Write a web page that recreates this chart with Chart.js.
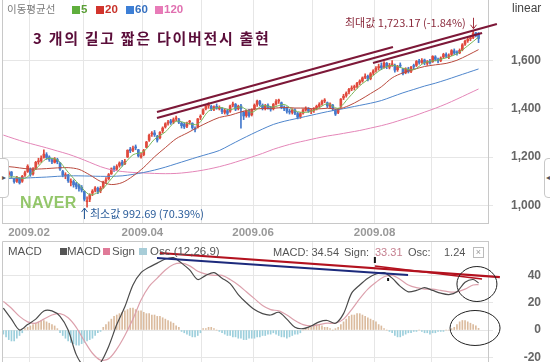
<!DOCTYPE html>
<html><head><meta charset="utf-8">
<script src="https://cdn.jsdelivr.net/npm/chart.js@4/dist/chart.umd.min.js"></script>
<style>
html,body{margin:0;padding:0;background:#fff;}
#wrap{position:relative;width:550px;height:362px;overflow:hidden;font-family:'Liberation Sans',Arial,sans-serif;}
canvas{position:absolute;left:0;}
#cMain{top:0;}
#cMacd{top:241px;}
.t{position:absolute;white-space:nowrap;line-height:1;}
.k{font-family:'Noto Sans CJK KR','Liberation Sans',sans-serif;}
.sq{position:absolute;}
.tab{position:absolute;background:#fff;border:1px solid #c8c8c8;color:#555;font-size:8px;line-height:38px;text-align:center;}
</style></head><body>
<div id="wrap">
<canvas id="cMain" width="550" height="240" style="width:550px;height:240px"></canvas>
<canvas id="cMacd" width="550" height="121" style="width:550px;height:121px"></canvas>

<div class="t k" style="left:7px;top:4px;font-size:10.5px;color:#7a7a7a;">이동평균선</div>
<div class="sq" style="left:72px;top:6px;width:8px;height:8px;background:#5fae3c"></div>
<div class="t" style="left:81px;top:4px;font-size:11.5px;font-weight:bold;color:#5a9e36;">5</div>
<div class="sq" style="left:96px;top:6px;width:8px;height:8px;background:#d2342c"></div>
<div class="t" style="left:105px;top:4px;font-size:11.5px;font-weight:bold;color:#c8322a;">20</div>
<div class="sq" style="left:126px;top:6px;width:8px;height:8px;background:#3d7fd6"></div>
<div class="t" style="left:135px;top:4px;font-size:11.5px;font-weight:bold;color:#3570c0;">60</div>
<div class="sq" style="left:155px;top:6px;width:8px;height:8px;background:#e87bb8"></div>
<div class="t" style="left:164px;top:4px;font-size:11.5px;font-weight:bold;color:#e070b0;">120</div>

<div class="t k" style="left:33px;top:30px;font-size:15px;font-weight:bold;letter-spacing:1.7px;color:#5b0e3a;">3 개의 길고 짧은 다이버전시 출현</div>
<div class="t" style="left:512px;top:2px;font-size:12px;color:#444;">linear</div>
<div class="t k" style="left:345px;top:17px;font-size:11px;color:#8a2a3c;">최대값 1,723.17 (-1.84%)</div>
<div class="t k" style="left:90px;top:208px;font-size:11px;color:#2a5c9a;">최소값 992.69 (70.39%)</div>
<div class="t" style="left:20px;top:195px;font-size:16px;font-weight:bold;letter-spacing:0.4px;color:#93c66a;">NAVER</div>

<div class="t" style="left:8px;top:246px;font-size:11.5px;color:#555;">MACD</div>
<div class="sq" style="left:60px;top:248px;width:7px;height:7px;background:#555"></div>
<div class="t" style="left:67px;top:246px;font-size:11.5px;color:#555;">MACD</div>
<div class="sq" style="left:103px;top:248px;width:7px;height:7px;background:#e07a98"></div>
<div class="t" style="left:112px;top:246px;font-size:11.5px;color:#555;">Sign</div>
<div class="sq" style="left:139px;top:248px;width:8px;height:7px;background:#a8cdd8"></div>
<div class="t" style="left:150px;top:246px;font-size:11.5px;color:#555;">Osc (12,26,9)</div>

<div class="t" style="left:273px;top:246.5px;font-size:11px;color:#555;">MACD: 34.54</div>
<div class="t" style="left:344px;top:246.5px;font-size:11px;color:#555;">Sign:</div>
<div class="t" style="left:375px;top:246.5px;font-size:11px;color:#c58090;">33.31</div>
<div class="t" style="left:408px;top:246.5px;font-size:11px;color:#555;">Osc:</div>
<div class="t" style="left:444px;top:246.5px;font-size:11px;color:#555;">1.24</div>
<div class="t" style="left:473px;top:247px;width:9px;height:9px;border:1px solid #bbb;font-size:9px;color:#999;text-align:center;line-height:9px;">×</div>

<div class="tab" style="left:-1px;top:158px;width:8px;height:38px;border-radius:0 4px 4px 0;">▸</div>
<div class="tab" style="left:544px;top:158px;width:10px;height:38px;border-radius:4px 0 0 4px;text-align:left;padding-left:1px;">◂</div>
</div>
<script>
// ---- categories: trading days 2009-01-15 .. 2009-09-24 (index 0..176), month starts ----
const monthStarts = [10, 30, 52, 74, 93, 115, 138, 159];
const monthLabels = ['2009.02', '', '2009.04', '', '2009.06', '', '2009.08', ''];
const priceTicks = [1000, 1200, 1400, 1600];
const macdTicks = [-20, 0, 20, 40];

// ---- daily candles (KOSPI) ----
const opens = [
 1128,1105,1128,1138,1110,1100,1112,1100,1125,1140,
 1150,1130,1152,1180,1185,1198,1210,1200,1188,1178,1190,1175,1140,1122,1125,1095,1098,1090,1085,1075,
 1058,1015,1025,1050,1062,1070,1060,1075,1100,1110,1130,1155,1150,1165,1178,1172,1200,1232,1228,1242,1230,1200,
 1210,1240,1270,1295,1300,1285,1280,1308,1325,1340,1350,1345,1358,1355,1340,1335,1328,1345,1340,1318,1325,1365,
 1380,1400,1412,1410,1398,1410,1400,1400,1385,1392,1390,1415,1418,1400,1412,1385,1372,1390,1375,
 1400,1418,1430,1415,1400,1415,1405,1400,1420,1432,1425,1405,1402,1390,1385,1395,1380,1368,1382,1395,1400,1388,
 1392,1402,1410,1420,1432,1425,1410,1415,1395,1385,1410,1445,1455,1470,1482,1488,1492,1508,1515,1530,1535,1525,1548,
 1560,1570,1578,1572,1588,1572,1582,1580,1562,1580,1565,1550,1565,1555,1578,1580,1598,1592,1602,1588,1598,
 1595,1615,1605,1600,1615,1625,1615,1625,1640,1635,1632,1645,1668,1682,1690,1695,1715,1708
];
const highs = [
 1132,1130,1142,1140,1112,1120,1115,1124,1142,1168,
 1155,1156,1182,1195,1205,1230,1218,1205,1195,1198,1195,1178,1145,1135,1128,1110,1105,1095,1088,1082,
 1060,1035,1048,1065,1078,1075,1078,1100,1115,1132,1155,1162,1168,1180,1186,1190,1230,1240,1245,1250,1232,1215,
 1232,1265,1295,1305,1310,1290,1305,1325,1342,1352,1356,1362,1370,1360,1345,1342,1345,1352,1342,1325,1360,1375,
 1400,1418,1425,1415,1412,1420,1412,1405,1400,1398,1415,1428,1422,1415,1418,1390,1395,1398,1400,
 1420,1436,1435,1420,1418,1420,1410,1422,1438,1440,1428,1412,1408,1398,1400,1400,1385,1385,1400,1408,1405,1398,
 1405,1415,1425,1436,1442,1428,1425,1418,1398,1402,1442,1460,1470,1485,1495,1498,1510,1520,1532,1545,1540,1550,1562,
 1575,1585,1590,1595,1592,1588,1600,1585,1580,1590,1568,1570,1572,1576,1585,1600,1605,1608,1606,1600,1605,
 1620,1620,1610,1615,1630,1632,1628,1645,1648,1640,1648,1670,1685,1695,1702,1723.17,1716,1716
];
const lows = [
 1102,1100,1120,1115,1092,1095,1088,1095,1120,1136,
 1120,1125,1148,1170,1178,1195,1190,1182,1172,1175,1172,1145,1118,1110,1095,1080,1075,1068,1058,1055,
 1018,992.69,1015,1040,1055,1048,1052,1070,1092,1105,1128,1140,1145,1158,1162,1168,1198,1218,1222,1230,1200,1195,
 1205,1238,1265,1285,1285,1262,1275,1300,1320,1332,1335,1338,1350,1338,1320,1318,1322,1336,1315,1304,1320,1355,
 1375,1395,1402,1392,1392,1398,1395,1380,1378,1375,1385,1408,1392,1395,1320,1355,1365,1365,1370,
 1395,1410,1412,1395,1395,1398,1390,1395,1415,1422,1400,1392,1382,1378,1378,1375,1358,1360,1378,1390,1385,1380,
 1385,1395,1405,1415,1425,1405,1402,1392,1372,1380,1405,1438,1448,1462,1475,1478,1485,1500,1510,1525,1515,1520,1540,
 1552,1560,1562,1568,1566,1565,1575,1552,1555,1570,1540,1545,1548,1550,1565,1575,1585,1588,1582,1580,1585,
 1592,1598,1590,1595,1610,1612,1608,1620,1625,1622,1628,1640,1662,1675,1682,1690,1698,1674
];
const closes = [
 1110,1125,1135,1123,1098,1115,1093,1120,1135,1162,
 1127,1150,1178,1183,1195,1212,1198,1190,1180,1192,1180,1150,1125,1127,1102,1100,1085,1078,1070,1063,
 1025,1019,1043,1059,1072,1055,1071,1097,1105,1127,1151,1149,1161,1175,1170,1182,1228,1226,1237,1238,1205,1206,
 1228,1262,1290,1297,1292,1270,1302,1320,1338,1345,1342,1355,1360,1344,1330,1325,1340,1345,1322,1314,1358,1369,
 1396,1410,1415,1400,1408,1402,1405,1388,1393,1381,1412,1420,1398,1410,1400,1370,1390,1372,1395,
 1415,1432,1420,1402,1412,1405,1398,1418,1430,1432,1408,1400,1390,1386,1395,1382,1365,1380,1395,1402,1390,1390,
 1400,1410,1418,1430,1434,1412,1420,1400,1378,1398,1440,1452,1465,1480,1485,1490,1506,1515,1528,1535,1522,1545,1557,
 1568,1575,1570,1590,1575,1580,1584,1560,1575,1577,1545,1565,1553,1572,1575,1596,1592,1600,1590,1595,1591,
 1617,1605,1598,1610,1625,1618,1620,1641,1631,1630,1642,1665,1680,1688,1692,1712,1703,1691
];

// ---- moving averages, read every 4 trading days ----
const maDays = [0,4,8,12,16,20,24,28,32,36,40,44,48,52,56,60,64,68,72,76,80,84,88,92,96,100,104,108,112,116,120,124,128,132,136,140,144,148,152,156,160,164,168,172,176];
const ma5 = [1115,1118,1112,1150,1193,1188,1137,1087,1044,1060,1110,1161,1209,1223,1274,1304,1348,1340,1336,1390,1406,1396,1408,1385,1413,1407,1418,1391,1385,1398,1421,1402,1447,1495,1529,1563,1580,1568,1562,1591,1600,1611,1628,1661,1697];
const ma20 = [1162,1158,1152,1150,1152,1155,1156,1149,1126,1099,1086,1094,1121,1157,1201,1239,1276,1299,1323,1345,1364,1373,1387,1397,1401,1402,1406,1403,1403,1399,1402,1399,1413,1436,1463,1491,1528,1549,1563,1575,1582,1588,1601,1622,1645];
const ma60 = [1110,1112,1113,1115,1117,1120,1122,1122,1121,1120,1120,1122,1128,1136,1146,1158,1172,1186,1200,1213,1227,1250,1273,1295,1316,1335,1348,1358,1368,1378,1388,1396,1405,1414,1423,1434,1450,1466,1480,1494,1506,1520,1535,1550,1565];
const ma120 = [1291,1276,1262,1250,1238,1225,1212,1196,1178,1160,1147,1140,1136,1134,1132,1131,1132,1136,1142,1150,1160,1172,1186,1200,1215,1232,1246,1258,1268,1278,1287,1294,1302,1310,1320,1330,1342,1356,1370,1386,1402,1420,1440,1461,1482];

// ---- MACD (12,26,9), lines read every 3 days; oscillator daily ----
const macdDays = [0,3,6,9,12,15,18,21,24,27,30,33,36,39,42,45,48,51,54,57,60,63,66,69,72,75,78,81,84,87,90,93,96,99,102,105,108,111,114,117,120,123,126,129,132,135,138,141,144,147,150,153,156,159,162,165,168,171,174,176];
const macd = [16,8,0,4,8,14,14,10,0,-18,-27,-30,-24,-12,4,17,33,42,46,49,52,53,49,44,37,40,42,38,34,26,20,15,12,11,13,8,2,1,3,6,7,5,12,27,33,38,41,42,38,32,28,29,31,29,27,26,28,35,37,34.54];
const signal = [21,16,10,6,5,8,11,12,9,2,-8,-17,-22,-21,-14,-4,8,22,32,38,44,48,49,47,43,41,40,40,37,33,28,23,18,15,14,11,7,4,3,4,5,5,8,15,23,30,35,39,40,37,33,31,30,30,29,28,28,30,33,33.31];
const osc = [
 -3,-5,-7,-8,-8,-6,-4,-2,
 1,2,3,4,5,6,7,7,6,5,4,3,1,
 -2,-4,-6,-8,-9,-10,-11,-11,-10,-9,-8,-7,-6,-4,-2,-1,
 2,4,6,8,10,11,12,13,14,15,16,16,15,14,14,13,12,12,11,11,10,10,9,8,7,6,5,3,2,
 -1,-2,-3,-4,-5,-5,-4,-2,
 1,1,2,2,1,0,-1,
 -2,-3,-4,-4,-5,-5,-6,-6,-7,-7,-6,-6,-6,-5,-5,-4,-4,-3,-3,-2,
 -3,-4,-5,-5,-6,-5,-4,-3,-3,-2,
 0,1,2,2,3,4,4,3,2,2,1,0,1,2,
 4,6,8,10,11,11,12,12,11,10,9,8,7,6,4,3,
 1,0,-1,-2,-4,-5,-5,-4,-3,-2,
 -2,-1,-1,0,-1,-2,-2,-3,-2,-2,-1,-1,-1,0,0,
 1,2,4,6,7,7,6,5,4,3,1.24
];

// ---- hand-drawn divergence lines [day, value] ----
const priceLineA = [[56.9,1386.6],[144.3,1655.9]];
const priceLineB = [[56.9,1361.7],[182.8,1751.2]];
const priceLineC = [[136.9,1589.6],[177.3,1714]];
const macdRed1 = [[58.0,56.4],[183.9,38.8]];
const macdRed2 = [[137.6,46.9],[177.3,37.4]];
const macdNavy = [[56.9,52.7],[149.9,40.3]];
const macdMarks = [[137.6,53.5,49.1],[142.5,38.1,35.9]];
const circles = [[175.4,33.7],[174.7,1.5]];
const maxPoint = [174, 1723.17];
const minPoint = [31, 992.69];

const FONT = "'Liberation Sans', Arial, sans-serif";
const X_MIN = -0.5, X_MAX = 179.5;
const UP = '#e0493c', DOWN = '#4479cc';
const GRID = '#e6e6e6', BORDER = '#c8c8c8';
const days = closes.map((_, i) => i);
const candleColor = days.map(i => closes[i] >= opens[i] ? UP : DOWN);
const pts = (xs, ys) => xs.map((d, k) => ({x: d, y: ys[k]}));
const seg = a => a.map(p => ({x: p[0], y: p[1]}));

function maLine(vals, color, order) {
  return {type: 'line', data: pts(maDays, vals), borderColor: color, borderWidth: 1,
    pointRadius: 0, tension: 0.3, order: order};
}
function trend(a, color, w) {
  return {type: 'line', data: seg(a), borderColor: color, borderWidth: w, pointRadius: 0,
    clip: false, order: 0};
}
function noPad(s) { s.paddingTop = 0; s.paddingBottom = 0; s.paddingLeft = 0; s.paddingRight = 0; }
function xAxis(showLabels) {
  return {
    type: 'linear', min: X_MIN, max: X_MAX, offset: false,
    afterBuildTicks: s => { s.ticks = monthStarts.map(v => ({value: v - 0.5})); },
    afterFit: s => { s.height = showLabels ? 17 : 0; noPad(s); },
    ticks: {display: showLabels, autoSkip: false, maxRotation: 0, padding: 3, color: '#999',
      font: {family: FONT, size: 11.5, weight: 'bold'},
      callback: (v, i) => monthLabels[i]},
    grid: {color: GRID, drawTicks: false, offset: false},
    border: {display: showLabels, color: BORDER}
  };
}
function yAxis(min, max, tickVals, pad, fmt) {
  return {
    type: 'linear', position: 'right', min: min, max: max,
    afterBuildTicks: s => { s.ticks = tickVals.map(v => ({value: v})); },
    afterFit: s => { s.width = 53; noPad(s); },
    ticks: {crossAlign: 'far', padding: pad, color: '#666',
      font: {family: FONT, size: 12, weight: 'bold'}, callback: fmt},
    grid: {color: GRID, drawTicks: true, tickLength: 5},
    border: {color: BORDER}
  };
}
function arrow(ctx, x, y0, y1, color) {
  const dir = y1 > y0 ? 1 : -1;
  ctx.strokeStyle = color; ctx.lineWidth = 1;
  ctx.beginPath(); ctx.moveTo(x, y0); ctx.lineTo(x, y1);
  ctx.moveTo(x - 3, y1 - 4 * dir); ctx.lineTo(x, y1); ctx.lineTo(x + 3, y1 - 4 * dir);
  ctx.stroke();
}

const mainDecor = {
  id: 'mainDecor',
  afterDraw(chart) {
    const {ctx, chartArea: a, scales: {x, y}} = chart;
    ctx.save();
    ctx.strokeStyle = BORDER; ctx.lineWidth = 1;
    ctx.beginPath(); ctx.moveTo(a.left + 0.5, a.top); ctx.lineTo(a.left + 0.5, a.bottom); ctx.stroke();
    const mx = Math.round(x.getPixelForValue(maxPoint[0])) + 0.5, my = y.getPixelForValue(maxPoint[1]);
    arrow(ctx, mx, my - 13, my - 2, '#a2303f');
    const nx = Math.round(x.getPixelForValue(minPoint[0])) - 2.5, ny = y.getPixelForValue(minPoint[1]);
    arrow(ctx, nx, ny + 12, ny + 1, '#2a5c9a');
    ctx.restore();
  }
};
const macdDecor = {
  id: 'macdDecor',
  afterDraw(chart) {
    const {ctx, chartArea: a, scales: {x, y}} = chart;
    ctx.save();
    ctx.strokeStyle = BORDER; ctx.lineWidth = 1;
    ctx.beginPath();
    ctx.moveTo(a.left + 0.5, a.bottom); ctx.lineTo(a.left + 0.5, a.top + 0.5); ctx.lineTo(a.right, a.top + 0.5);
    ctx.stroke();
    ctx.strokeStyle = '#111'; ctx.lineWidth = 2;
    macdMarks.forEach(m => {
      const px = x.getPixelForValue(m[0]);
      ctx.beginPath(); ctx.moveTo(px, y.getPixelForValue(m[1])); ctx.lineTo(px, y.getPixelForValue(m[2])); ctx.stroke();
    });
    ctx.strokeStyle = '#222'; ctx.lineWidth = 1;
    const radii = [[20, 17.5], [25, 17.5]];
    circles.forEach((c, k) => {
      ctx.beginPath();
      ctx.ellipse(x.getPixelForValue(c[0]), y.getPixelForValue(c[1]), radii[k][0], radii[k][1], 0, 0, Math.PI * 2);
      ctx.stroke();
    });
    ctx.restore();
  }
};

const common = {
  responsive: false, animation: false, devicePixelRatio: 1, events: [],
  plugins: {legend: {display: false}, tooltip: {enabled: false}}
};

new Chart(document.getElementById('cMain'), {
  data: {datasets: [
    trend(priceLineA, '#7d1838', 2.2),
    trend(priceLineB, '#7d1838', 2.2),
    trend(priceLineC, '#7d1838', 2.2),
    maLine(ma5, '#79b85a', 1),
    maLine(ma20, '#b94a3e', 1),
    maLine(ma60, '#4f86cc', 1),
    maLine(ma120, '#e486b8', 1),
    {type: 'bar', data: days.map(i => ({x: i, y: [opens[i], closes[i]]})), backgroundColor: candleColor,
      barThickness: 2, minBarLength: 1, grouped: false, order: 2},
    {type: 'bar', data: days.map(i => ({x: i, y: [lows[i], highs[i]]})), backgroundColor: candleColor,
      barThickness: 1, grouped: false, order: 3}
  ]},
  options: Object.assign({}, common, {
    layout: {padding: {left: 2, right: 9, top: 0, bottom: 0}},
    scales: {
      x: xAxis(true),
      y: yAxis(926.6, 1850.7, priceTicks, 18, v => v.toLocaleString('en-US'))
    }
  }),
  plugins: [mainDecor]
});

new Chart(document.getElementById('cMacd'), {
  data: {datasets: [
    trend(macdRed1, '#b3121f', 2.2),
    trend(macdRed2, '#b3121f', 1.5),
    trend(macdNavy, '#1c2a7c', 2),
    {type: 'line', data: pts(macdDays, macd), borderColor: '#4a4a4a', borderWidth: 1.2, pointRadius: 0, tension: 0.3, order: 1},
    {type: 'line', data: pts(macdDays, signal), borderColor: '#dca0ac', borderWidth: 1.2, pointRadius: 0, tension: 0.3, order: 2},
    {type: 'bar', data: days.map(i => ({x: i, y: osc[i]})),
      backgroundColor: days.map(i => osc[i] >= 0 ? '#dbbb9e' : '#9ccfdc'),
      barThickness: 1, grouped: false, order: 3}
  ]},
  options: Object.assign({}, common, {
    layout: {padding: {left: 2, right: 9, top: 0, bottom: 0}},
    scales: {
      x: xAxis(false),
      y: yAxis(-23.4, 65.2, macdTicks, 30.7, v => String(v))
    }
  }),
  plugins: [macdDecor]
});
</script>
</body></html>
